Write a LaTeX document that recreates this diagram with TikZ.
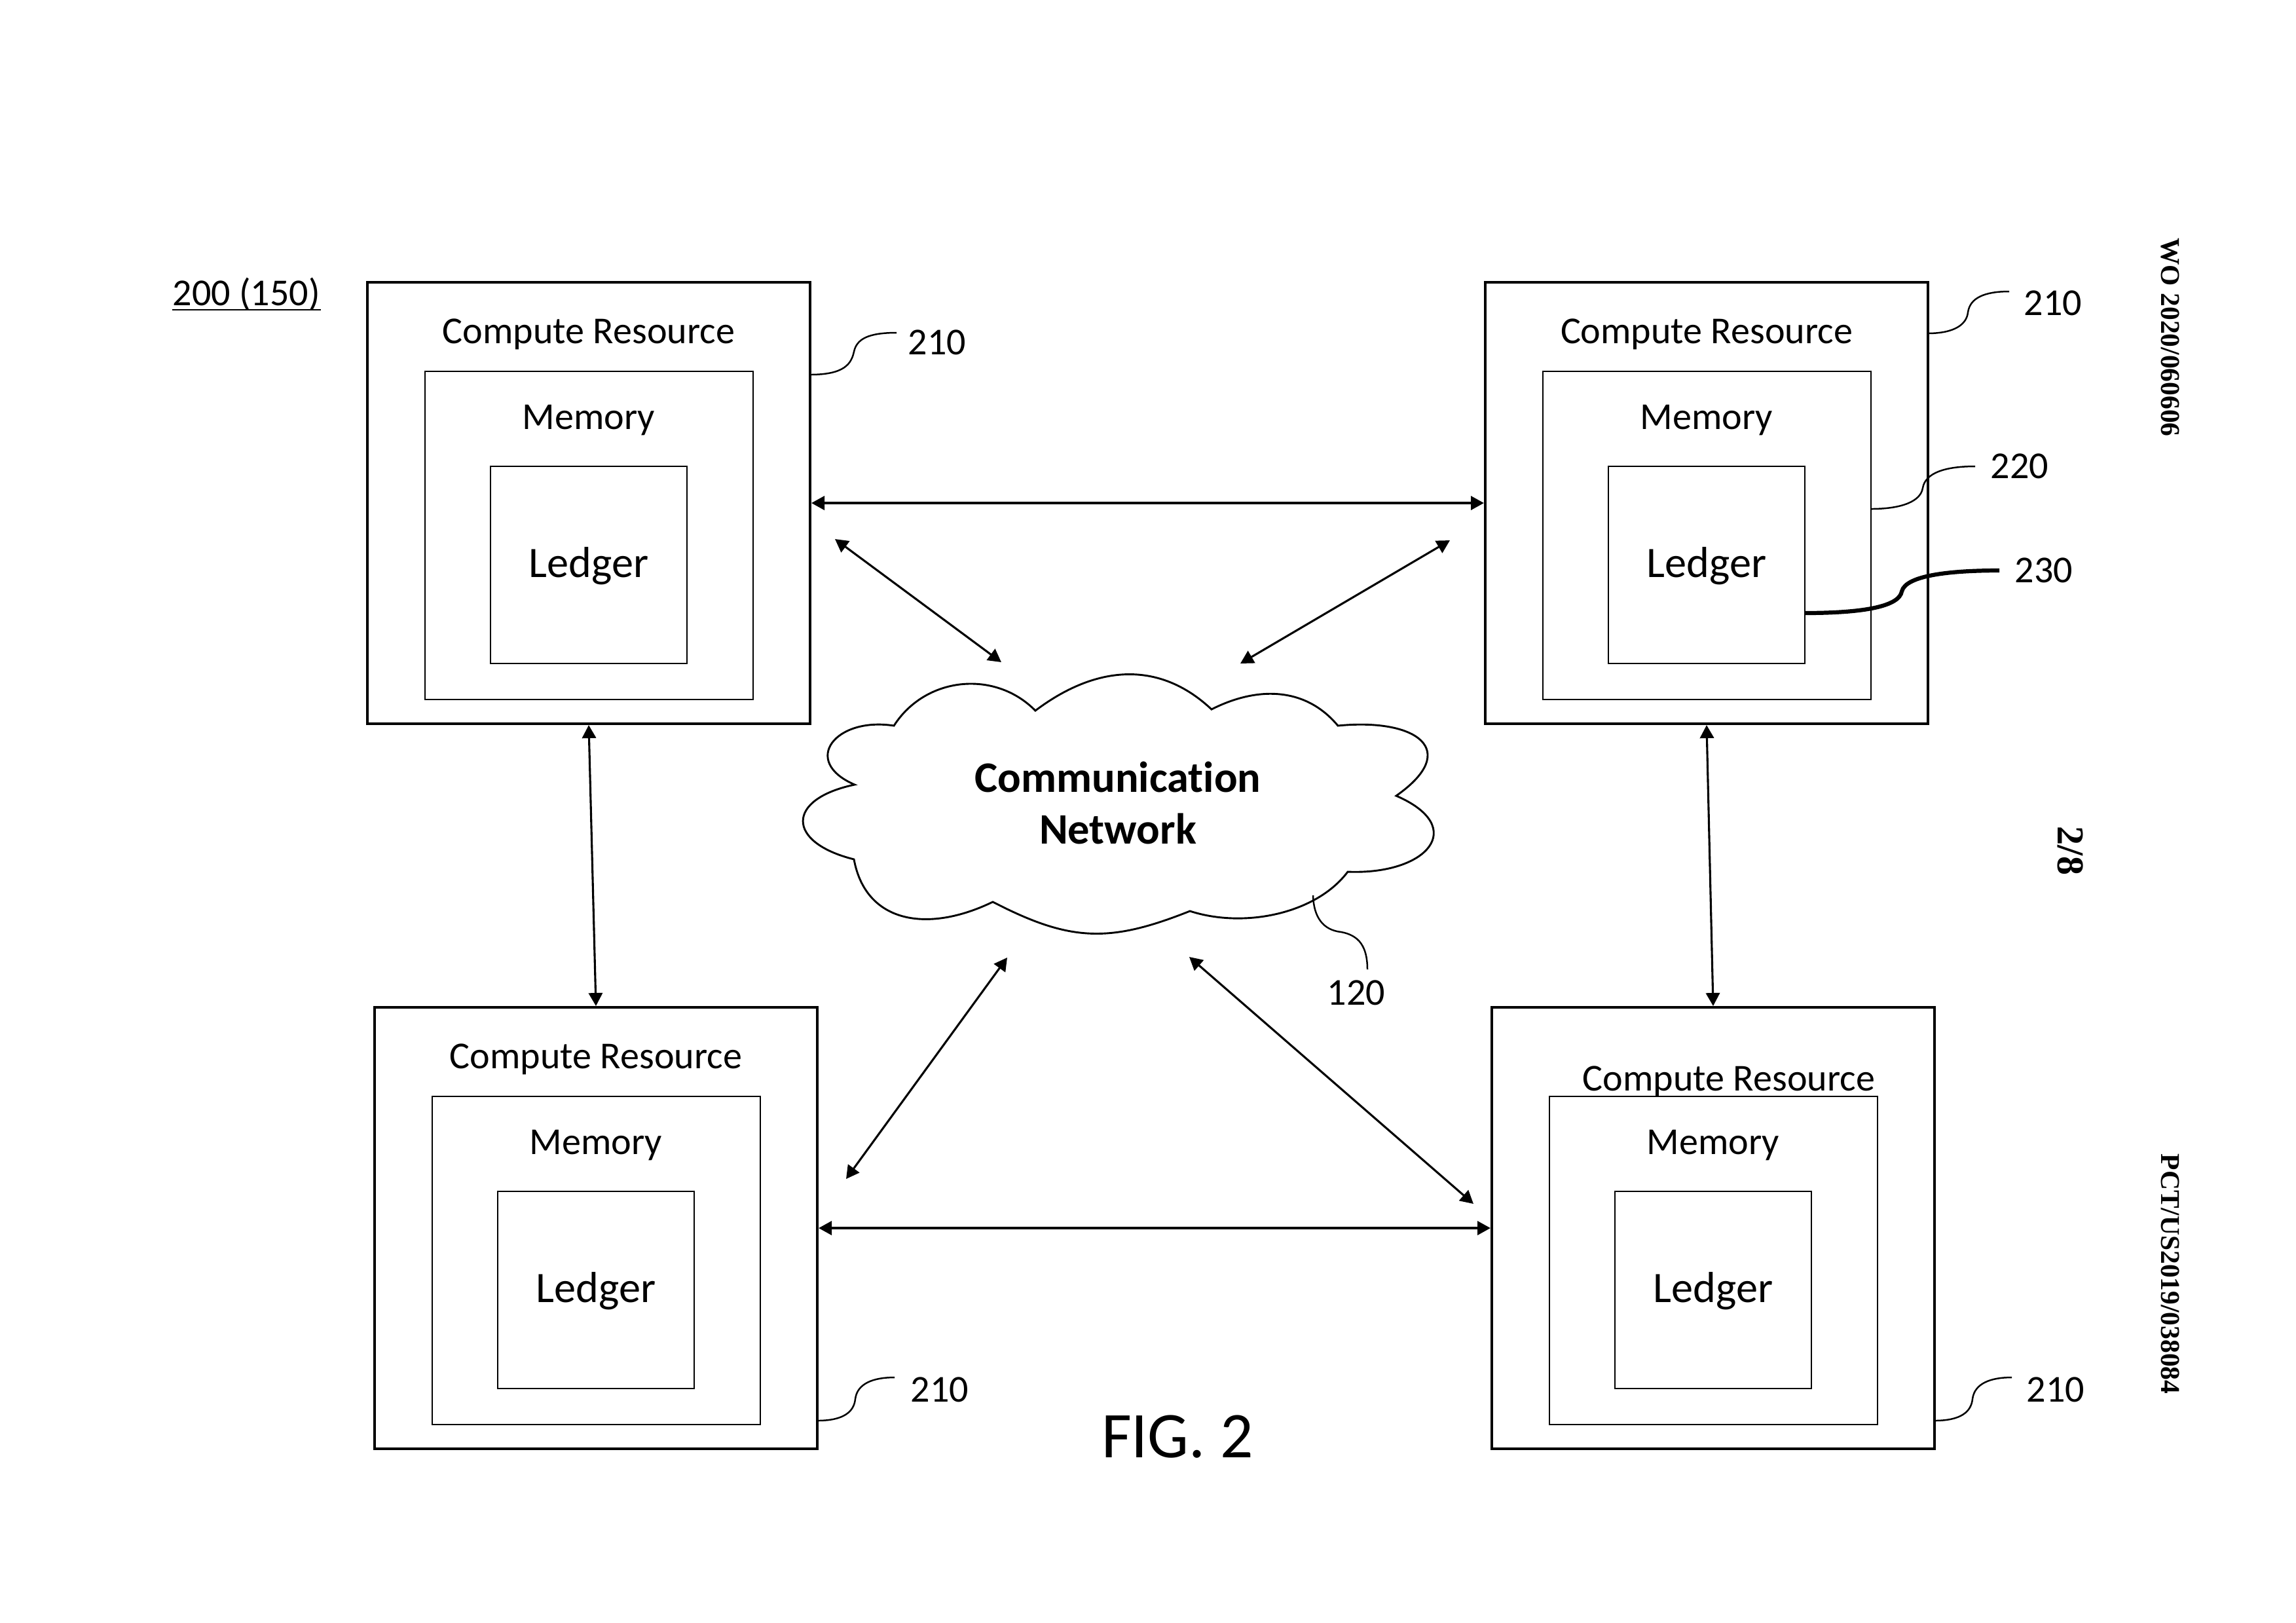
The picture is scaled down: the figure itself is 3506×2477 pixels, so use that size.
\documentclass[tikz,border=0pt]{standalone}
\usepackage{fontspec}
\setmainfont{Carlito}[RawFeature={-liga;-clig}]
\newfontfamily\tnr{Liberation Serif}
\usetikzlibrary{arrows.meta,calc}
\def\pxu{0.241028pt}
\newcommand\mkcrbox[5]{%
  \node[obox] (#1) at (899+#2,768+#3) {};
  \node[mbox] (#1m) at (899.5+#2,817.5+#3) {};
  \node[lbox] (#1l) at (899+#2,862.5+#3) {};
  \node[txt] (#1ct) at (899+#2+#4,524+#3+#5) {Compute Resource};
  \node[txt] (#1mt) at (899+#2,655+#3) {Memory};
  \node[ltxt] (#1lt) at (899+#2,881+#3) {Ledger};
}
\begin{document}
\begin{tikzpicture}[x=0.241028pt,y=-0.241028pt,
  obox/.style={draw, line width=1pt, inner sep=0pt, minimum width=676*\pxu, minimum height=674*\pxu},
  mbox/.style={draw, line width=0.7pt, inner sep=0pt, minimum width=501*\pxu, minimum height=501*\pxu},
  lbox/.style={draw, line width=0.7pt, inner sep=0pt, minimum width=300*\pxu, minimum height=301*\pxu},
  txt/.style={inner sep=0pt, anchor=base, font=\fontsize{14}{17}\selectfont},
  ltxt/.style={inner sep=0pt, anchor=base, font=\fontsize{16}{19}\selectfont},
  num/.style={inner sep=0pt, font=\fontsize{14}{17}\selectfont},
  arr/.style={line width=0.75pt, {Triangle[length=4.8pt,width=5.1pt]}-{Triangle[length=4.8pt,width=5.1pt]}},
  lead/.style={line width=0.6pt},
  side/.style={inner sep=0pt, rotate=-90, font=\tnr\bfseries\fontsize{10}{12}\selectfont}]
\path[fill=white, use as bounding box] (0,0) rectangle (3506,2477);

% compute resources
\mkcrbox{tl}{0}{0}{0}{0}
\mkcrbox{tr}{1707}{0}{0}{0}
\mkcrbox{bl}{11}{1107}{0}{0}
\mkcrbox{br}{1717}{1107}{24}{34}

% cloud
\draw[line width=0.7pt] (1365,1108)
  .. controls (1413,1033) and (1519,1022) .. (1581,1085)
  .. controls (1671,1017) and (1768,1006) .. (1850,1083)
  .. controls (1919,1048) and (1993,1048) .. (2043,1108)
  .. controls (2163,1096) and (2232,1145) .. (2132,1215)
  .. controls (2243,1263) and (2179,1336) .. (2058,1331)
  .. controls (2010,1395) and (1900,1418) .. (1817,1391)
  .. controls (1694,1440) and (1634,1438) .. (1516,1377)
  .. controls (1417,1425) and (1322,1410) .. (1304,1312)
  .. controls (1200,1286) and (1200,1220) .. (1305,1198)
  .. controls (1222,1162) and (1276,1094) .. cycle;
\node[inner sep=0pt, anchor=base, font=\bfseries\fontsize{16}{19}\selectfont] (net1) at (1707,1209) {Communication};
\node[inner sep=0pt, anchor=base, font=\bfseries\fontsize{16}{19}\selectfont] (net2) at (1707,1288) {Network};

% connectors
\draw[arr] (tl.east) -- (tr.west);
\draw[arr] (bl.east) -- (br.west);
\draw[arr] (tl.south) -- (bl.north);
\draw[arr] (tr.south) -- (br.north);
\coordinate (d1a) at (1275,823);  \coordinate (d1b) at (1529,1011);
\coordinate (d2a) at (2214,825);  \coordinate (d2b) at (1894,1013);
\coordinate (d3a) at (1538,1462); \coordinate (d3b) at (1292,1800);
\coordinate (d4a) at (1816,1461); \coordinate (d4b) at (2250,1838);
\draw[arr] (d1a) -- (d1b);
\draw[arr] (d2a) -- (d2b);
\draw[arr] (d3a) -- (d3b);
\draw[arr] (d4a) -- (d4b);

% reference numerals and leaders
\node[num] (r210a) at (1431,523) {210};
\node[num] (r210b) at (3135,463) {210};
\node[num] (r220) at (3084,712) {220};
\node[num] (r230) at (3121,871) {230};
\node[num] (r210c) at (1435,2122) {210};
\node[num] (r210d) at (3139,2122) {210};
\node[num] (r120) at (2071,1516) {120};
\draw[lead] (1237,572) .. controls (1290,572) and (1300,555) .. (1304,537) .. controls (1308,518) and (1325,508) .. (1369,508);
\draw[lead] (2943,509) .. controls (2985,509) and (3003,495) .. (3005,477) .. controls (3008,455) and (3030,445) .. (3068,445);
\draw[lead] (2857,777) .. controls (2905,777) and (2933,765) .. (2936,745) .. controls (2940,722) and (2970,712) .. (3016,712);
\draw[line width=1.5pt] (2755,936) .. controls (2850,936) and (2900,925) .. (2904,903) .. controls (2910,878) and (2980,871) .. (3053,871);
\draw[lead] (2954,2169) .. controls (2995,2169) and (3010,2155) .. (3012,2136) .. controls (3015,2112) and (3040,2103) .. (3072,2103);
\draw[lead] (1248,2169) .. controls (1289,2169) and (1304,2155) .. (1306,2136) .. controls (1309,2112) and (1334,2103) .. (1366,2103);
\draw[lead] (2005,1367) .. controls (2006,1400) and (2020,1420) .. (2048,1423) .. controls (2075,1428) and (2088,1445) .. (2088,1480);

% figure labels
\node[inner sep=0pt, anchor=base west, font=\fontsize{14}{17}\selectfont] (sys) at (263,466) {200 (150)};
\draw[line width=0.5pt] ([yshift=-1.7pt]sys.base west) -- ([yshift=-1.7pt]sys.base east);
\node[inner sep=0pt, anchor=base, font=\fontsize{24}{29}\selectfont] (fig) at (1798,2225) {FIG. 2};

% margin texts
\node[side] (wo) at (3314,515) {WO 2020/060606};
\node[side, font=\tnr\bfseries\fontsize{14}{17}\selectfont] (pg) at (3162,1299) {2/8};
\node[side] (pct) at (3314,1945) {PCT/US2019/038084};
\end{tikzpicture}
\end{document}
